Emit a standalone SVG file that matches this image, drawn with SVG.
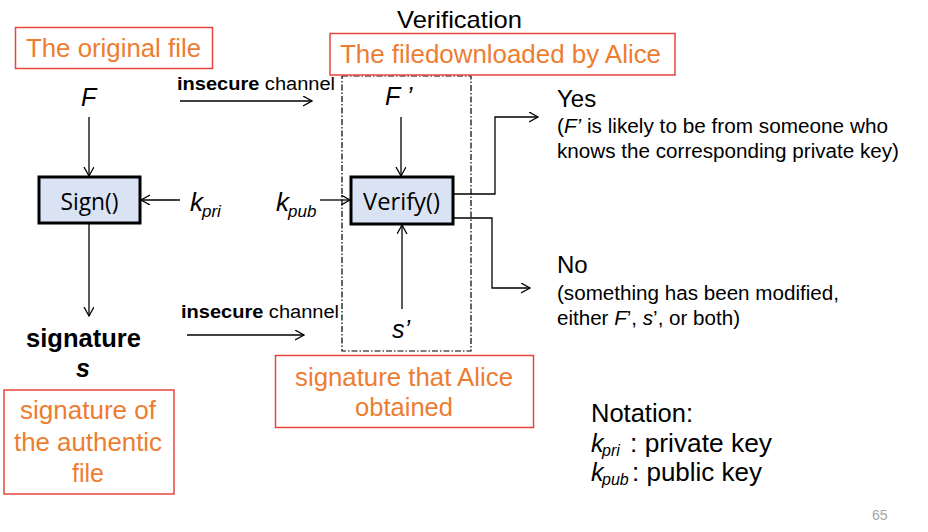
<svg xmlns="http://www.w3.org/2000/svg" width="928" height="532" viewBox="0 0 928 532">
  <defs>
    <marker id="arr" markerUnits="userSpaceOnUse" markerWidth="12" markerHeight="12" refX="9" refY="5" orient="auto">
      <path d="M0,0 L9,5 L0,10" fill="none" stroke="#000" stroke-width="1.3"/>
    </marker>
    <style>
      text { font-family: "Liberation Sans", Arial, sans-serif; fill: #000; }
      .note { fill: #ED7D31; font-size: 25px; }
      .redbox { fill: #fff; stroke: #E8473F; stroke-width: 1.5; }
      .proc { fill: #DAE3F3; stroke: #000; stroke-width: 3; }
      .proclabel { font-family: "Open Sans", "Liberation Sans", sans-serif; font-size: 23px; text-anchor: middle; }
      .conn { fill: none; stroke: #000; stroke-width: 1.3; marker-end: url(#arr); }
      .it { font-style: italic; }
      .b { font-weight: bold; }
      .small { font-size: 20px; }
      .big { font-size: 24px; }
    </style>
  </defs>
  <rect width="928" height="532" fill="#fff"/>

  <!-- verification dash-dot region -->
  <rect id="verification-region" x="342" y="76" width="129" height="275" fill="none" stroke="#000" stroke-width="1.2" stroke-dasharray="6 2 1.5 2"/>
  <text x="397" y="28" font-size="24" textLength="125" lengthAdjust="spacingAndGlyphs">Verification</text>

  <!-- annotation boxes -->
  <g id="note-original">
    <rect class="redbox" x="15.5" y="27.5" width="197" height="41"/>
    <text class="note" x="26" y="57" textLength="175" lengthAdjust="spacingAndGlyphs">The original file</text>
  </g>
  <g id="note-downloaded">
    <rect class="redbox" x="330" y="33.5" width="345" height="41.5"/>
    <text class="note" x="340" y="63" textLength="321" lengthAdjust="spacingAndGlyphs">The filedownloaded by Alice</text>
  </g>
  <g id="note-authentic">
    <rect class="redbox" x="4" y="390" width="170" height="104"/>
    <text class="note" x="88" y="419" text-anchor="middle" textLength="136" lengthAdjust="spacingAndGlyphs">signature of</text>
    <text class="note" x="88" y="451" text-anchor="middle" textLength="148" lengthAdjust="spacingAndGlyphs">the authentic</text>
    <text class="note" x="88" y="482" text-anchor="middle">file</text>
  </g>
  <g id="note-obtained">
    <rect class="redbox" x="275.5" y="355.5" width="258" height="72"/>
    <text class="note" x="404" y="386" text-anchor="middle" textLength="218" lengthAdjust="spacingAndGlyphs">signature that Alice</text>
    <text class="note" x="404" y="416" text-anchor="middle" textLength="98" lengthAdjust="spacingAndGlyphs">obtained</text>
  </g>

  <!-- nodes -->
  <g id="F">
    <text class="it" x="81" y="106" font-size="25">F</text>
  </g>
  <g id="sign">
    <rect class="proc" x="39" y="177" width="101" height="46"/>
    <text class="proclabel" x="89.5" y="210" textLength="58" lengthAdjust="spacingAndGlyphs">Sign()</text>
  </g>
  <g id="kpri">
    <text class="it" x="190" y="211" font-size="26">k</text>
    <text class="it" x="202" y="217" font-size="17">pri</text>
  </g>
  <g id="signature">
    <text class="b" x="83.5" y="347" font-size="25" text-anchor="middle" textLength="115" lengthAdjust="spacingAndGlyphs">signature</text>
    <text class="b it" x="83" y="377" font-size="25" text-anchor="middle">s</text>
  </g>
  <g id="Fprime">
    <text class="it" x="385" y="105" font-size="25">F ’</text>
  </g>
  <g id="kpub">
    <text class="it" x="276" y="211" font-size="26">k</text>
    <text class="it" x="288" y="217" font-size="17">pub</text>
  </g>
  <g id="verify">
    <rect class="proc" x="351" y="177" width="102" height="47"/>
    <text class="proclabel" x="401.5" y="210" textLength="77" lengthAdjust="spacingAndGlyphs">Verify()</text>
  </g>
  <g id="sprime">
    <text class="it" x="392" y="338" font-size="25">s’</text>
  </g>
  <g id="yes">
    <text class="big" x="557" y="107">Yes</text>
    <text class="small" x="557" y="133" textLength="331" lengthAdjust="spacingAndGlyphs">(<tspan class="it">F’</tspan> is likely to be from someone who</text>
    <text class="small" x="557" y="158" textLength="342" lengthAdjust="spacingAndGlyphs">knows the corresponding private key)</text>
  </g>
  <g id="no">
    <text class="big" x="557" y="273">No</text>
    <text class="small" x="557" y="300" textLength="282" lengthAdjust="spacingAndGlyphs">(something has been modified,</text>
    <text class="small" x="557" y="325" textLength="183" lengthAdjust="spacingAndGlyphs">either <tspan class="it">F</tspan>’, <tspan class="it">s</tspan>’, or both)</text>
  </g>

  <!-- channel labels -->
  <text x="177" y="90" font-size="18" textLength="158" lengthAdjust="spacingAndGlyphs"><tspan class="b">insecure</tspan> channel</text>
  <text x="181" y="318" font-size="18" textLength="158" lengthAdjust="spacingAndGlyphs"><tspan class="b">insecure</tspan> channel</text>

  <!-- notation -->
  <g id="notation">
    <text x="591" y="422" font-size="26" textLength="102" lengthAdjust="spacingAndGlyphs">Notation:</text>
    <text class="it" x="591" y="452" font-size="25">k</text>
    <text class="it" x="602" y="456" font-size="16">pri</text>
    <text x="630" y="452" font-size="26" textLength="142" lengthAdjust="spacingAndGlyphs">: private key</text>
    <text class="it" x="591" y="481" font-size="25">k</text>
    <text class="it" x="602" y="485" font-size="16">pub</text>
    <text x="632" y="481" font-size="26" textLength="130" lengthAdjust="spacingAndGlyphs">: public key</text>
  </g>
  <text x="872" y="520" font-size="14" style="fill:#A6A6A6">65</text>

  <!-- connectors -->
  <g id="connectors">
    <path class="conn" d="M89,117 V176"/>
    <path class="conn" d="M180,200 H141"/>
    <path class="conn" d="M89,224 V316"/>
    <path class="conn" d="M180,101 H312"/>
    <path class="conn" d="M187,335 H304"/>
    <path class="conn" d="M401,117 V176"/>
    <path class="conn" d="M320,200 H350"/>
    <path class="conn" d="M402,309 V225"/>
    <path class="conn" d="M453,194 H495 V117 H538"/>
    <path class="conn" d="M453,218 H492 V288 H530"/>
  </g>
</svg>
